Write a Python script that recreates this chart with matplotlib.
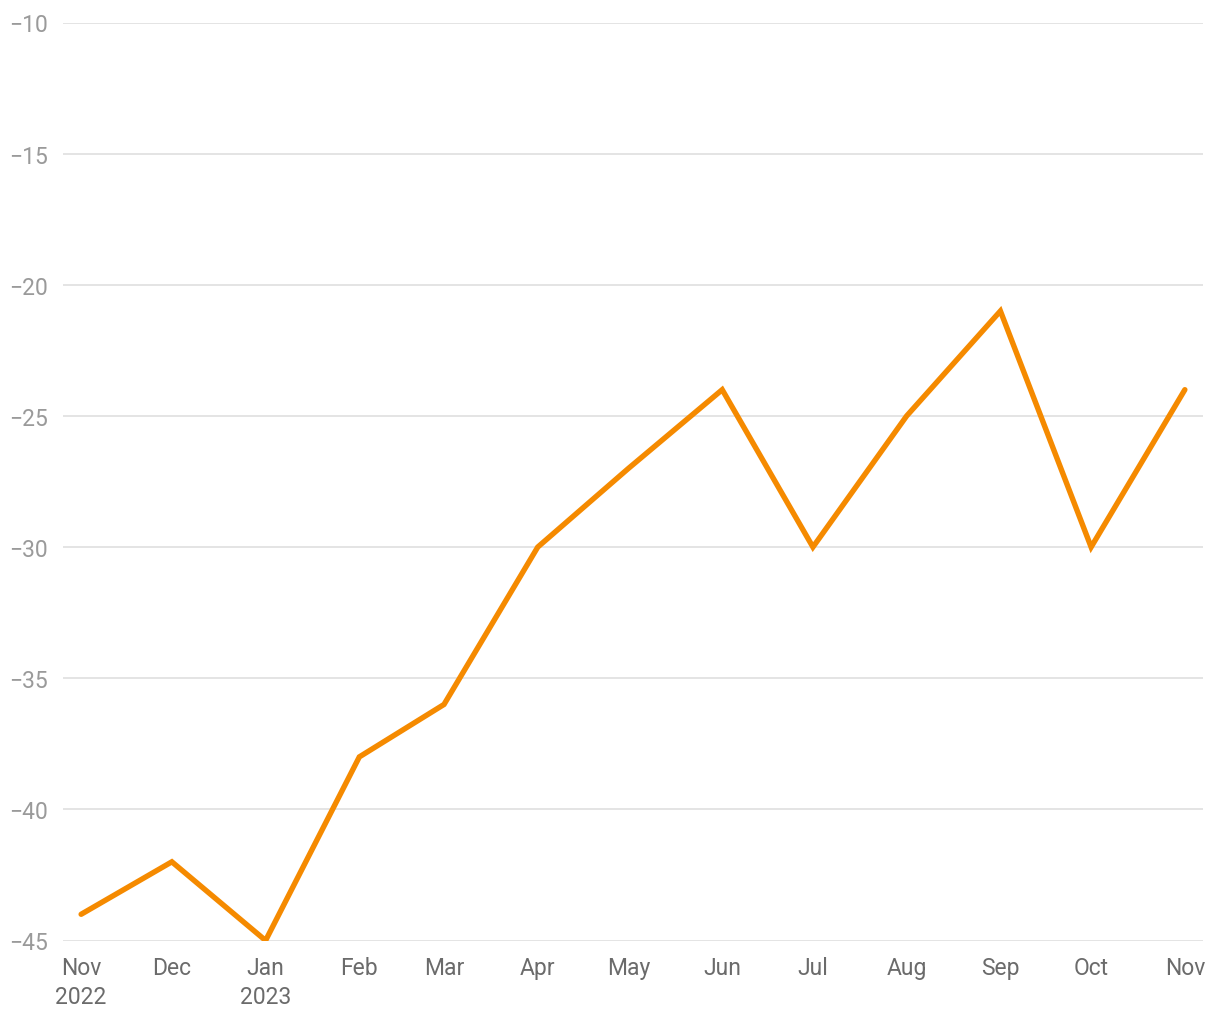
import matplotlib
matplotlib.use('Agg')
import matplotlib.pyplot as plt
import numpy as np
import datetime as dt

months = [dt.date(2022, 11, 1), dt.date(2022, 12, 1), dt.date(2023, 1, 1), dt.date(2023, 2, 1),
          dt.date(2023, 3, 1), dt.date(2023, 4, 1), dt.date(2023, 5, 1), dt.date(2023, 6, 1),
          dt.date(2023, 7, 1), dt.date(2023, 8, 1), dt.date(2023, 9, 1), dt.date(2023, 10, 1),
          dt.date(2023, 11, 1)]
values = [-44, -42, -45, -38, -36, -30, -27, -24, -30, -25, -21, -30, -24]
xlabels = ['Nov\n2022', 'Dec', 'Jan\n2023', 'Feb', 'Mar', 'Apr', 'May', 'Jun',
           'Jul', 'Aug', 'Sep', 'Oct', 'Nov']
yticks = [-45, -40, -35, -30, -25, -20, -15, -10]

plt.rcParams['font.family'] = ['Roboto', 'DejaVu Sans']

fig = plt.figure(figsize=(12.2, 10.2), dpi=100)
ax = fig.add_axes([63 / 1220, 1 - 941.5 / 1020, (1203 - 63) / 1220, (941.5 - 23.5) / 1020])

ax.plot(months, values, color='#f58a00', linewidth=3.9, solid_joinstyle='miter',
        solid_capstyle='round', zorder=3)

ax.set_ylim(-45, -10)
ax.set_yticks(yticks)
ax.set_yticklabels(['\u2212%d' % abs(v) for v in yticks])
ax.set_xlim(dt.date(2022, 11, 1) - dt.timedelta(days=6.3), dt.date(2023, 11, 1) + dt.timedelta(days=6))
ax.set_xticks(months)
ax.set_xticklabels(xlabels, linespacing=1.35)

ax.grid(axis='y', color='#e2e2e2', linewidth=1.3)
ax.set_axisbelow(True)
for s in ax.spines.values():
    s.set_visible(False)
ax.tick_params(axis='both', length=0)
ax.tick_params(axis='y', labelsize=16.5, labelcolor='#9a9a9a', pad=11)
ax.tick_params(axis='x', labelsize=16.5, labelcolor='#6b6b6b', pad=11)

fig.savefig('out.png', dpi=100)
